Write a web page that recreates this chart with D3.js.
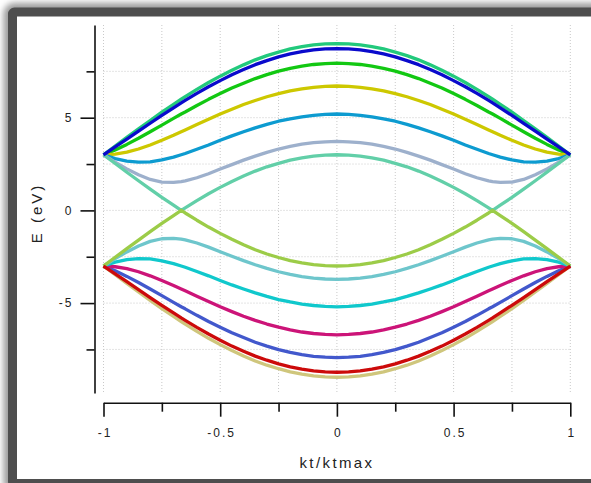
<!DOCTYPE html>
<html>
<head>
<meta charset="utf-8">
<script src="https://cdn.jsdelivr.net/npm/d3@7"></script>
<style>
  body { margin: 0; background: #fff; }
  svg { display: block; font-family: "Liberation Sans", Arial, sans-serif; }
</style>
</head>
<body>
<svg id="chart" width="591" height="483"></svg>
<script>
// k points along kt/ktmax (extra points at +-2/3 where the bands touch)
const kx = [-1, -0.95, -0.9, -0.85, -0.8, -0.75, -0.7, -0.667, -0.65, -0.6, -0.55, -0.5, -0.45, -0.4, -0.35, -0.3, -0.25, -0.2, -0.15, -0.1, -0.05,
  0, 0.05, 0.1, 0.15, 0.2, 0.25, 0.3, 0.35, 0.4, 0.45, 0.5, 0.55, 0.6, 0.65, 0.667, 0.7, 0.75, 0.8, 0.85, 0.9, 0.95, 1]

// band energies (eV)
const band900 = [3.00, 3.47, 3.94, 4.40, 4.85, 5.30, 5.72, 6.00, 6.14, 6.53, 6.90, 7.24, 7.56, 7.85, 8.12, 8.35, 8.54, 8.71, 8.83, 8.93, 8.98,
  9.00, 8.98, 8.93, 8.83, 8.71, 8.54, 8.35, 8.12, 7.85, 7.56, 7.24, 6.90, 6.53, 6.14, 6.00, 5.72, 5.30, 4.85, 4.40, 3.94, 3.47, 3.00]
const band873 = [3.00, 3.42, 3.84, 4.27, 4.70, 5.12, 5.53, 5.80, 5.93, 6.31, 6.67, 7.00, 7.32, 7.60, 7.86, 8.08, 8.28, 8.44, 8.56, 8.66, 8.71,
  8.73, 8.71, 8.66, 8.56, 8.44, 8.28, 8.08, 7.86, 7.60, 7.32, 7.00, 6.67, 6.31, 5.93, 5.80, 5.53, 5.12, 4.70, 4.27, 3.84, 3.42, 3.00]
const band794 = [3.00, 3.26, 3.56, 3.89, 4.24, 4.60, 4.96, 5.20, 5.31, 5.66, 5.99, 6.30, 6.60, 6.86, 7.11, 7.32, 7.51, 7.66, 7.78, 7.87, 7.92,
  7.94, 7.92, 7.87, 7.78, 7.66, 7.51, 7.32, 7.11, 6.86, 6.60, 6.30, 5.99, 5.66, 5.31, 5.20, 4.96, 4.60, 4.24, 3.89, 3.56, 3.26, 3.00]
const band671 = [3.00, 3.04, 3.14, 3.31, 3.53, 3.78, 4.05, 4.24, 4.34, 4.63, 4.92, 5.20, 5.46, 5.71, 5.93, 6.13, 6.30, 6.45, 6.56, 6.64, 6.69,
  6.71, 6.69, 6.64, 6.56, 6.45, 6.30, 6.13, 5.93, 5.71, 5.46, 5.20, 4.92, 4.63, 4.34, 4.24, 4.05, 3.78, 3.53, 3.31, 3.14, 3.04, 3.00]
const band520 = [3.00, 2.79, 2.66, 2.60, 2.62, 2.72, 2.87, 3.00, 3.07, 3.30, 3.53, 3.78, 4.02, 4.24, 4.45, 4.64, 4.81, 4.94, 5.05, 5.13, 5.18,
  5.20, 5.18, 5.13, 5.05, 4.94, 4.81, 4.64, 4.45, 4.24, 4.02, 3.78, 3.53, 3.30, 3.07, 3.00, 2.87, 2.72, 2.62, 2.60, 2.66, 2.79, 3.00]
const band372 = [3.00, 2.60, 2.24, 1.92, 1.67, 1.53, 1.51, 1.55, 1.59, 1.76, 1.98, 2.23, 2.47, 2.71, 2.93, 3.13, 3.31, 3.45, 3.57, 3.65, 3.70,
  3.72, 3.70, 3.65, 3.57, 3.45, 3.31, 3.13, 2.93, 2.71, 2.47, 2.23, 1.98, 1.76, 1.59, 1.55, 1.51, 1.53, 1.67, 1.92, 2.24, 2.60, 3.00]
const band300 = [3.00, 2.53, 2.06, 1.60, 1.15, 0.70, 0.28, 0.00, 0.14, 0.53, 0.90, 1.24, 1.56, 1.85, 2.12, 2.35, 2.54, 2.71, 2.83, 2.93, 2.98,
  3.00, 2.98, 2.93, 2.83, 2.71, 2.54, 2.35, 2.12, 1.85, 1.56, 1.24, 0.90, 0.53, 0.14, 0.00, 0.28, 0.70, 1.15, 1.60, 2.06, 2.53, 3.00]
const bandM300 = [-3.00, -2.53, -2.06, -1.60, -1.15, -0.70, -0.28, 0.00, -0.14, -0.53, -0.90, -1.24, -1.56, -1.85, -2.12, -2.35, -2.54, -2.71, -2.83, -2.93, -2.98,
  -3.00, -2.98, -2.93, -2.83, -2.71, -2.54, -2.35, -2.12, -1.85, -1.56, -1.24, -0.90, -0.53, -0.14, 0.00, -0.28, -0.70, -1.15, -1.60, -2.06, -2.53, -3.00]
const bandM372 = [-3.00, -2.60, -2.24, -1.92, -1.67, -1.53, -1.51, -1.55, -1.59, -1.76, -1.98, -2.23, -2.47, -2.71, -2.93, -3.13, -3.31, -3.45, -3.57, -3.65, -3.70,
  -3.72, -3.70, -3.65, -3.57, -3.45, -3.31, -3.13, -2.93, -2.71, -2.47, -2.23, -1.98, -1.76, -1.59, -1.55, -1.51, -1.53, -1.67, -1.92, -2.24, -2.60, -3.00]
const bandM520 = [-3.00, -2.79, -2.66, -2.60, -2.62, -2.72, -2.87, -3.00, -3.07, -3.30, -3.53, -3.78, -4.02, -4.24, -4.45, -4.64, -4.81, -4.94, -5.05, -5.13, -5.18,
  -5.20, -5.18, -5.13, -5.05, -4.94, -4.81, -4.64, -4.45, -4.24, -4.02, -3.78, -3.53, -3.30, -3.07, -3.00, -2.87, -2.72, -2.62, -2.60, -2.66, -2.79, -3.00]
const bandM671 = [-3.00, -3.04, -3.14, -3.31, -3.53, -3.78, -4.05, -4.24, -4.34, -4.63, -4.92, -5.20, -5.46, -5.71, -5.93, -6.13, -6.30, -6.45, -6.56, -6.64, -6.69,
  -6.71, -6.69, -6.64, -6.56, -6.45, -6.30, -6.13, -5.93, -5.71, -5.46, -5.20, -4.92, -4.63, -4.34, -4.24, -4.05, -3.78, -3.53, -3.31, -3.14, -3.04, -3.00]
const bandM794 = [-3.00, -3.26, -3.56, -3.89, -4.24, -4.60, -4.96, -5.20, -5.31, -5.66, -5.99, -6.30, -6.60, -6.86, -7.11, -7.32, -7.51, -7.66, -7.78, -7.87, -7.92,
  -7.94, -7.92, -7.87, -7.78, -7.66, -7.51, -7.32, -7.11, -6.86, -6.60, -6.30, -5.99, -5.66, -5.31, -5.20, -4.96, -4.60, -4.24, -3.89, -3.56, -3.26, -3.00]
const bandM873 = [-3.00, -3.42, -3.84, -4.27, -4.70, -5.12, -5.53, -5.80, -5.93, -6.31, -6.67, -7.00, -7.32, -7.60, -7.86, -8.08, -8.28, -8.44, -8.56, -8.66, -8.71,
  -8.73, -8.71, -8.66, -8.56, -8.44, -8.28, -8.08, -7.86, -7.60, -7.32, -7.00, -6.67, -6.31, -5.93, -5.80, -5.53, -5.12, -4.70, -4.27, -3.84, -3.42, -3.00]
const bandM900 = [-3.00, -3.47, -3.94, -4.40, -4.85, -5.30, -5.72, -6.00, -6.14, -6.53, -6.90, -7.24, -7.56, -7.85, -8.12, -8.35, -8.54, -8.71, -8.83, -8.93, -8.98,
  -9.00, -8.98, -8.93, -8.83, -8.71, -8.54, -8.35, -8.12, -7.85, -7.56, -7.24, -6.90, -6.53, -6.14, -6.00, -5.72, -5.30, -4.85, -4.40, -3.94, -3.47, -3.00]

// drawing order: later ones end up on top
const bands = [
  { values: band900, color: "#22c97c" },
  { values: bandM900, color: "#cfc67c" },
  { values: band794, color: "#12c812" },
  { values: bandM794, color: "#4258cc" },
  { values: band671, color: "#cdc800" },
  { values: bandM671, color: "#cc1478" },
  { values: band520, color: "#0d9bd0" },
  { values: bandM520, color: "#10c8cc" },
  { values: band372, color: "#9db0cc" },
  { values: bandM372, color: "#6ec6cc" },
  { values: band300, color: "#62cfa8" },
  { values: bandM300, color: "#9ccc48" },
  { values: band873, color: "#0a0acc" },
  { values: bandM873, color: "#cc0a0a" },
]

const xMajor = [-1, -0.5, 0, 0.5, 1]
const xMinor = [-0.75, -0.25, 0.25, 0.75]
const yMajor = [-5, 0, 5]
const yMinor = [-7.5, -2.5, 2.5, 7.5]
const xGrid = [-1, -0.75, -0.5, -0.25, 0, 0.25, 0.5, 0.75, 1]
const yGrid = [-7.5, -5, -2.5, 0, 2.5, 5, 7.5]

const svg = d3.select("#chart")

// frame with soft shadow
const defs = svg.append("defs")
const blur = defs.append("filter").attr("id", "shadow")
  .attr("x", "-10%").attr("y", "-10%").attr("width", "120%").attr("height", "120%")
blur.append("feGaussianBlur").attr("stdDeviation", 3)

svg.append("rect")
  .attr("x", 10.5).attr("y", 10).attr("width", 620).attr("height", 476)
  .attr("rx", 4)
  .attr("fill", "none")
  .attr("stroke", "#9a9a9a")
  .attr("stroke-width", 14)
  .attr("filter", "url(#shadow)")

svg.append("rect")
  .attr("x", 12.5).attr("y", 12).attr("width", 620).attr("height", 471.5)
  .attr("rx", 2)
  .attr("fill", "#fff")
  .attr("stroke", "#4e4e4e")
  .attr("stroke-width", 9)

const x = d3.scaleLinear().domain([-1, 1]).range([103.5, 570.3])
const y = d3.scaleLinear().domain([-9.85, 10]).range([393, 25])

// dotted grid
const grid = svg.append("g")
  .attr("stroke", "#c9c9c9")
  .attr("stroke-width", 1)
  .attr("stroke-dasharray", "1,2")

grid.selectAll(".vg")
  .data(xGrid)
  .enter()
  .append("line")
  .attr("class", "vg")
  .attr("x1", d => x(d)).attr("x2", d => x(d))
  .attr("y1", y.range()[1]).attr("y2", y.range()[0])

grid.selectAll(".hg")
  .data(yGrid)
  .enter()
  .append("line")
  .attr("class", "hg")
  .attr("x1", x(-1)).attr("x2", x(1))
  .attr("y1", d => y(d)).attr("y2", d => y(d))

// bands
const line = d3.line()
  .x((d, i) => x(kx[i]))
  .y(d => y(d))

svg.append("g")
  .selectAll("path")
  .data(bands)
  .enter()
  .append("path")
  .attr("d", d => line(d.values))
  .attr("fill", "none")
  .attr("stroke", d => d.color)
  .attr("stroke-width", 3.3)
  .attr("stroke-linejoin", "round")

// axes, detached from the plot like Igor does
const axisY = 94.5
const axisX = 402.7

const styleAxis = g => {
  g.selectAll("path, line").attr("stroke", "#111").attr("stroke-width", 1.6)
  g.selectAll("text")
    .attr("fill", "#222")
    .style("font-size", "12px")
    .style("letter-spacing", "2px")
}

svg.append("g")
  .attr("transform", `translate(0, ${axisX})`)
  .call(d3.axisBottom(x).tickValues(xMajor).tickSize(14).tickSizeOuter(0)
    .tickPadding(12).tickFormat(d => String(d)))
  .call(styleAxis)
  .call(g => g.selectAll("text").attr("dx", "1px"))

svg.append("g")
  .attr("transform", `translate(0, ${axisX})`)
  .call(d3.axisBottom(x).tickValues(xMinor).tickSize(9).tickFormat(""))
  .call(g => g.select(".domain").remove())
  .call(styleAxis)

svg.append("g")
  .attr("transform", `translate(${axisY}, 0)`)
  .call(d3.axisLeft(y).tickValues(yMajor).tickSize(14).tickSizeOuter(0)
    .tickPadding(7).tickFormat(d => String(d)))
  .call(styleAxis)

svg.append("g")
  .attr("transform", `translate(${axisY}, 0)`)
  .call(d3.axisLeft(y).tickValues(yMinor).tickSize(8).tickFormat(""))
  .call(g => g.select(".domain").remove())
  .call(styleAxis)

// axis titles
svg.append("text")
  .attr("x", 337)
  .attr("y", 468)
  .attr("text-anchor", "middle")
  .attr("fill", "#222")
  .style("font-size", "15px")
  .style("letter-spacing", "2.4px")
  .text("kt/ktmax")

svg.append("text")
  .attr("transform", "translate(42, 213) rotate(-90)")
  .attr("text-anchor", "middle")
  .attr("fill", "#222")
  .style("font-size", "15px")
  .style("letter-spacing", "3px")
  .text("E (eV)")
</script>
</body>
</html>
